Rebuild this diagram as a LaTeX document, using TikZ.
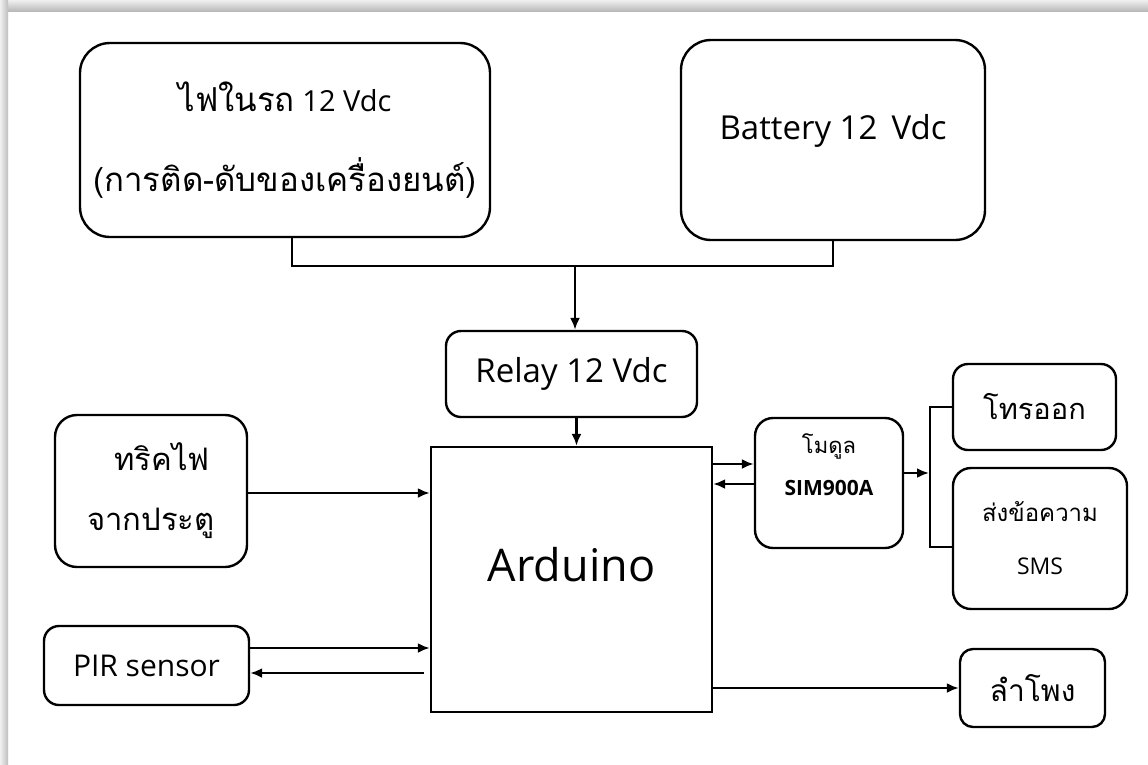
\documentclass[tikz,border=0pt]{standalone}
\usepackage{fontspec}
\setmainfont{Open Sans}
\newfontfamily\thai[Script=Thai]{Loma}
\usetikzlibrary{arrows.meta}
\tikzset{
  blk/.style={draw=black, line width=2.4pt, rounded corners=#1, align=center, inner sep=0pt},
  blk/.default=15pt,
  wire/.style={draw=black, line width=2.4pt},
  arr/.style={wire, -{Latex[length=12pt,width=10pt]}},
}
\begin{document}
\begin{tikzpicture}[x=1pt,y=-1pt]
\useasboundingbox (0,0) rectangle (1148,764);
\fill[white] (0,0) rectangle (1148,764);
\shade[top color=gray!12, bottom color=gray!55] (0,0) rectangle (1148,11);
\shade[left color=gray!12, right color=gray!50] (0,0) rectangle (8,764);

% nodes
\node[blk=30pt, minimum width=410pt, minimum height=194pt, font=\fontsize{29}{80}\selectfont] (car) at (285,140) {{\thai\fontsize{33}{80}\selectfont ไฟในรถ} 12 Vdc\\{\thai\fontsize{33}{80}\selectfont (การติด-ดับของเครื่องยนต์)}};
\node[blk=30pt, minimum width=304pt, minimum height=200pt, font=\fontsize{33}{36}\selectfont, text depth=26pt] (bat) at (833,140) {Battery 12\, Vdc};
\node[blk, minimum width=251pt, minimum height=86pt, font=\fontsize{33}{36}\selectfont] (relay) at (571.5,374) {Relay 12 Vdc};
\node[draw=black, line width=2.4pt, minimum width=281pt, minimum height=265pt, font=\fontsize{45}{50}\selectfont, text depth=30pt] (ard) at (571.5,579.5) {Arduino};
\node[blk=22pt, minimum width=192pt, minimum height=152pt, font=\thai\fontsize{31}{60}\selectfont] (trick) at (151,491) {\hspace*{22pt}ทริคไฟ\\จากประตู};
\node[blk, minimum width=205pt, minimum height=79pt, font=\fontsize{30}{34}\selectfont] (pir) at (146.5,665.5) {PIR sensor};
\node[blk=18pt, minimum width=148pt, minimum height=130pt, font=\fontsize{21}{42}\selectfont] (sim) at (829,483) {{\thai\fontsize{22}{42}\selectfont โมดูล}\\\textbf{SIM900A}\\[-6pt]};
\node[blk, minimum width=163pt, minimum height=86pt, font=\thai\fontsize{29}{32}\selectfont] (call) at (1034.5,407) {โทรออก};
\node[blk=18pt, minimum width=174pt, minimum height=141pt, font=\thai\fontsize{24}{53}\selectfont] (sms) at (1040,538.5) {ส่งข้อความ\\{\normalfont\fontsize{23}{20}\selectfont SMS}};
\node[blk=13pt, minimum width=145pt, minimum height=78pt, font=\thai\fontsize{30}{32}\selectfont] (spk) at (1032.5,688) {ลำโพง};

% power join
\coordinate (j) at (575,266);
\draw[wire] ([xshift=7pt]car.south) |- (j) -| (bat.south);
\draw[arr] (j) -- (j |- relay.north);
\draw[arr] ([xshift=5pt]relay.south) -- ([xshift=5pt]ard.north);

% left inputs
\draw[arr] (trick.east |- 0,493) -- (ard.west |- 0,493);
\draw[arr] (pir.east |- 0,648) -- (ard.west |- 0,648);
\coordinate (pirback) at (424,673);
\draw[arr] (pirback) -- (pir.east |- pirback);

% SIM900A
\draw[arr] (ard.east |- 0,464) -- (sim.west |- 0,464);
\draw[arr] (sim.west |- 0,484) -- (ard.east |- 0,484);
\coordinate (br) at (930,473);
\draw[arr] (sim.east |- br) -- ([xshift=-1pt]br);
\draw[wire] (call.west) -| (br) |- (sms.west |- 0,547);

% speaker
\draw[arr] (ard.east |- 0,688) -- (spk.west |- 0,688);
\end{tikzpicture}
\end{document}
